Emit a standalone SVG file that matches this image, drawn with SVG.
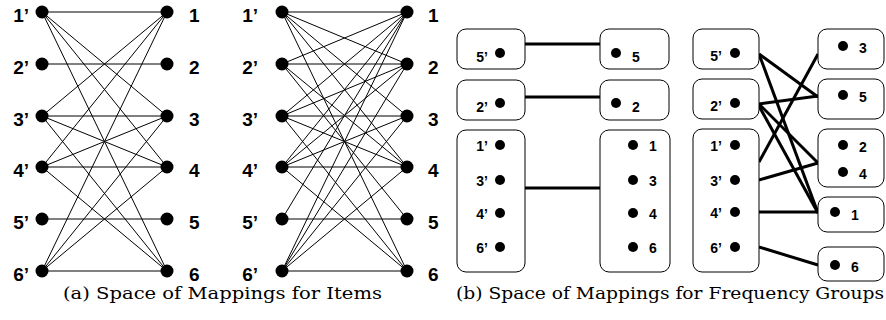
<svg xmlns="http://www.w3.org/2000/svg" width="886" height="320" viewBox="0 0 886 320">
<style>
.lbl{font-family:"Liberation Sans",Arial,sans-serif;font-weight:bold;font-size:19px;fill:#000}
.sl{font-family:"Liberation Sans",Arial,sans-serif;font-weight:bold;font-size:14px;fill:#000}
.cap{font-family:"DejaVu Serif","Liberation Serif",serif;font-size:17px;fill:#000}
.thin line{stroke:#000;stroke-width:1}
.thick line{stroke:#000;stroke-width:3}
.box{fill:#fff;stroke:#000;stroke-width:1}
</style>
<rect width="886" height="320" fill="#fff"/>

<!-- (a) left graph connectors -->
<g id="edges-a1" class="thin">
<line x1="42" y1="12" x2="167" y2="12"/><line x1="42" y1="12" x2="167" y2="116"/><line x1="42" y1="12" x2="167" y2="167"/><line x1="42" y1="12" x2="167" y2="271"/>
<line x1="42" y1="64" x2="167" y2="64"/>
<line x1="42" y1="116" x2="167" y2="12"/><line x1="42" y1="116" x2="167" y2="116"/><line x1="42" y1="116" x2="167" y2="167"/><line x1="42" y1="116" x2="167" y2="271"/>
<line x1="42" y1="167" x2="167" y2="12"/><line x1="42" y1="167" x2="167" y2="116"/><line x1="42" y1="167" x2="167" y2="167"/><line x1="42" y1="167" x2="167" y2="271"/>
<line x1="42" y1="219" x2="167" y2="219"/>
<line x1="42" y1="271" x2="167" y2="12"/><line x1="42" y1="271" x2="167" y2="116"/><line x1="42" y1="271" x2="167" y2="167"/><line x1="42" y1="271" x2="167" y2="271"/>
</g>
<!-- (a) right graph connectors -->
<g id="edges-a2" class="thin">
<line x1="282" y1="12" x2="407" y2="12"/><line x1="282" y1="12" x2="407" y2="64"/><line x1="282" y1="12" x2="407" y2="116"/><line x1="282" y1="12" x2="407" y2="167"/><line x1="282" y1="12" x2="407" y2="271"/>
<line x1="282" y1="64" x2="407" y2="12"/><line x1="282" y1="64" x2="407" y2="64"/><line x1="282" y1="64" x2="407" y2="167"/><line x1="282" y1="64" x2="407" y2="219"/>
<line x1="282" y1="116" x2="407" y2="12"/><line x1="282" y1="116" x2="407" y2="64"/><line x1="282" y1="116" x2="407" y2="116"/><line x1="282" y1="116" x2="407" y2="167"/><line x1="282" y1="116" x2="407" y2="271"/>
<line x1="282" y1="167" x2="407" y2="12"/><line x1="282" y1="167" x2="407" y2="64"/><line x1="282" y1="167" x2="407" y2="116"/><line x1="282" y1="167" x2="407" y2="167"/><line x1="282" y1="167" x2="407" y2="271"/>
<line x1="282" y1="219" x2="407" y2="12"/><line x1="282" y1="219" x2="407" y2="219"/>
<line x1="282" y1="271" x2="407" y2="12"/><line x1="282" y1="271" x2="407" y2="64"/><line x1="282" y1="271" x2="407" y2="116"/><line x1="282" y1="271" x2="407" y2="167"/><line x1="282" y1="271" x2="407" y2="271"/>
</g>

<!-- (a) left graph nodes -->
<g id="a1-L1"><circle cx="42" cy="12" r="6.5"/><text class="lbl" x="29" y="22" text-anchor="end">1’</text></g>
<g id="a1-L2"><circle cx="42" cy="64" r="6.5"/><text class="lbl" x="29" y="74" text-anchor="end">2’</text></g>
<g id="a1-L3"><circle cx="42" cy="116" r="6.5"/><text class="lbl" x="29" y="126" text-anchor="end">3’</text></g>
<g id="a1-L4"><circle cx="42" cy="167" r="6.5"/><text class="lbl" x="29" y="177" text-anchor="end">4’</text></g>
<g id="a1-L5"><circle cx="42" cy="219" r="6.5"/><text class="lbl" x="29" y="229" text-anchor="end">5’</text></g>
<g id="a1-L6"><circle cx="42" cy="271" r="6.5"/><text class="lbl" x="29" y="281" text-anchor="end">6’</text></g>
<g id="a1-R1"><circle cx="167" cy="12" r="6.5"/><text class="lbl" x="189" y="22">1</text></g>
<g id="a1-R2"><circle cx="167" cy="64" r="6.5"/><text class="lbl" x="189" y="74">2</text></g>
<g id="a1-R3"><circle cx="167" cy="116" r="6.5"/><text class="lbl" x="189" y="126">3</text></g>
<g id="a1-R4"><circle cx="167" cy="167" r="6.5"/><text class="lbl" x="189" y="177">4</text></g>
<g id="a1-R5"><circle cx="167" cy="219" r="6.5"/><text class="lbl" x="189" y="229">5</text></g>
<g id="a1-R6"><circle cx="167" cy="271" r="6.5"/><text class="lbl" x="189" y="281">6</text></g>

<!-- (a) right graph nodes -->
<g id="a2-L1"><circle cx="282" cy="12" r="6.5"/><text class="lbl" x="258" y="22" text-anchor="end">1’</text></g>
<g id="a2-L2"><circle cx="282" cy="64" r="6.5"/><text class="lbl" x="258" y="74" text-anchor="end">2’</text></g>
<g id="a2-L3"><circle cx="282" cy="116" r="6.5"/><text class="lbl" x="258" y="126" text-anchor="end">3’</text></g>
<g id="a2-L4"><circle cx="282" cy="167" r="6.5"/><text class="lbl" x="258" y="177" text-anchor="end">4’</text></g>
<g id="a2-L5"><circle cx="282" cy="219" r="6.5"/><text class="lbl" x="258" y="229" text-anchor="end">5’</text></g>
<g id="a2-L6"><circle cx="282" cy="271" r="6.5"/><text class="lbl" x="258" y="281" text-anchor="end">6’</text></g>
<g id="a2-R1"><circle cx="407" cy="12" r="6.5"/><text class="lbl" x="428" y="22">1</text></g>
<g id="a2-R2"><circle cx="407" cy="64" r="6.5"/><text class="lbl" x="428" y="74">2</text></g>
<g id="a2-R3"><circle cx="407" cy="116" r="6.5"/><text class="lbl" x="428" y="126">3</text></g>
<g id="a2-R4"><circle cx="407" cy="167" r="6.5"/><text class="lbl" x="428" y="177">4</text></g>
<g id="a2-R5"><circle cx="407" cy="219" r="6.5"/><text class="lbl" x="428" y="229">5</text></g>
<g id="a2-R6"><circle cx="407" cy="271" r="6.5"/><text class="lbl" x="428" y="281">6</text></g>

<!-- (b) connectors -->
<g id="edges-b1" class="thick">
<line x1="525" y1="44" x2="600" y2="44"/>
<line x1="525" y1="97" x2="600" y2="97"/>
<line x1="525" y1="188" x2="600" y2="188"/>
</g>
<g id="edges-b2" class="thick">
<line x1="759" y1="54" x2="818" y2="97"/>
<line x1="759" y1="54" x2="818" y2="213"/>
<line x1="759" y1="162" x2="818" y2="54"/>
<line x1="759" y1="104" x2="818" y2="96"/>
<line x1="759" y1="104" x2="818" y2="163"/>
<line x1="759" y1="106" x2="818" y2="213"/>
<line x1="759" y1="180" x2="818" y2="163"/>
<line x1="759" y1="212" x2="818" y2="212"/>
<line x1="759" y1="247" x2="818" y2="265"/>
</g>

<!-- (b) left boxes -->
<g id="b1-L5"><rect class="box" x="457" y="29" width="68" height="40" rx="9"/><circle cx="500" cy="53" r="5"/><text class="sl" x="488" y="62" text-anchor="end">5’</text></g>
<g id="b1-L2"><rect class="box" x="457" y="80" width="68" height="40" rx="9"/><circle cx="500" cy="103" r="5"/><text class="sl" x="488" y="112" text-anchor="end">2’</text></g>
<g id="b1-LG"><rect class="box" x="457" y="130" width="68" height="142" rx="9"/>
<circle cx="500" cy="145" r="5"/><text class="sl" x="488" y="151" text-anchor="end">1’</text>
<circle cx="500" cy="180" r="5"/><text class="sl" x="488" y="186" text-anchor="end">3’</text>
<circle cx="500" cy="213" r="5"/><text class="sl" x="488" y="219" text-anchor="end">4’</text>
<circle cx="500" cy="247" r="5"/><text class="sl" x="488" y="253" text-anchor="end">6’</text></g>
<g id="b1-R5"><rect class="box" x="600" y="29" width="69" height="40" rx="9"/><circle cx="616" cy="53" r="5"/><text class="sl" x="632" y="62">5</text></g>
<g id="b1-R2"><rect class="box" x="600" y="80" width="69" height="40" rx="9"/><circle cx="616" cy="103" r="5"/><text class="sl" x="632" y="112">2</text></g>
<g id="b1-RG"><rect class="box" x="600" y="130" width="70" height="142" rx="9"/>
<circle cx="633" cy="145" r="5"/><text class="sl" x="649" y="151">1</text>
<circle cx="633" cy="180" r="5"/><text class="sl" x="649" y="186">3</text>
<circle cx="633" cy="213" r="5"/><text class="sl" x="649" y="219">4</text>
<circle cx="633" cy="247" r="5"/><text class="sl" x="649" y="253">6</text></g>

<!-- (b) right boxes -->
<g id="b2-L5"><rect class="box" x="693" y="29" width="66" height="40" rx="9"/><circle cx="735" cy="53" r="5"/><text class="sl" x="722" y="61" text-anchor="end">5’</text></g>
<g id="b2-L2"><rect class="box" x="693" y="79" width="66" height="40" rx="9"/><circle cx="735" cy="103" r="5"/><text class="sl" x="722" y="111" text-anchor="end">2’</text></g>
<g id="b2-LG"><rect class="box" x="693" y="129" width="66" height="143" rx="9"/>
<circle cx="735" cy="145" r="5"/><text class="sl" x="722" y="151" text-anchor="end">1’</text>
<circle cx="735" cy="180" r="5"/><text class="sl" x="722" y="186" text-anchor="end">3’</text>
<circle cx="735" cy="212" r="5"/><text class="sl" x="722" y="218" text-anchor="end">4’</text>
<circle cx="735" cy="247" r="5"/><text class="sl" x="722" y="253" text-anchor="end">6’</text></g>
<g id="b2-R3"><rect class="box" x="818" y="29" width="66" height="40" rx="9"/><circle cx="843" cy="46" r="5"/><text class="sl" x="859" y="53">3</text></g>
<g id="b2-R5"><rect class="box" x="818" y="79" width="66" height="40" rx="9"/><circle cx="843" cy="95" r="5"/><text class="sl" x="859" y="102">5</text></g>
<g id="b2-R24"><rect class="box" x="818" y="129" width="66" height="58" rx="9"/>
<circle cx="843" cy="145" r="5"/><text class="sl" x="859" y="152">2</text>
<circle cx="843" cy="172" r="5"/><text class="sl" x="859" y="179">4</text></g>
<g id="b2-R1"><rect class="box" x="818" y="197" width="66" height="35" rx="9"/><circle cx="835" cy="212" r="5"/><text class="sl" x="851" y="220">1</text></g>
<g id="b2-R6"><rect class="box" x="818" y="247" width="66" height="34" rx="9"/><circle cx="835" cy="265" r="5"/><text class="sl" x="851" y="272">6</text></g>

<text class="cap" x="63" y="299" textLength="319" lengthAdjust="spacingAndGlyphs">(a)  Space of Mappings for Items</text>
<text class="cap" x="456" y="299" textLength="428" lengthAdjust="spacingAndGlyphs">(b)  Space of Mappings for Frequency Groups</text>
</svg>
